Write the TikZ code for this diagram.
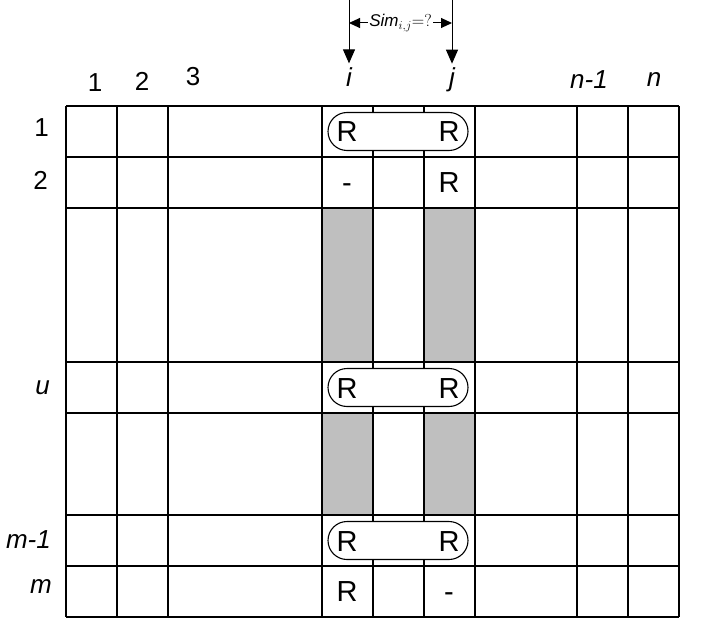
\documentclass[tikz,border=0pt]{standalone}
\usepackage{fontspec}
\setmainfont{Liberation Sans}
\usetikzlibrary{arrows.meta}

\begin{document}
\begin{tikzpicture}
  [x=1pt, y=-1pt,
   grid/.style={line width=1.5pt},
   hdr/.style={font=\fontsize{26}{30}\selectfont, inner sep=0pt},
   ent/.style={font=\fontsize{29}{34}\selectfont, inner sep=0pt, anchor=base},
   pill/.style={draw, fill=white, line width=1.1pt, rounded corners=19pt,
     minimum width=140pt, minimum height=38pt},
   pick/.style={line width=1pt, -{Triangle[length=14pt,width=12pt]}}]
  \useasboundingbox (0,0) rectangle (703,620);

  % Faixas cinzentas das colunas i e j
  \foreach \x in {322,424} {
    \fill[gray!50] (\x,208) rectangle (\x+51,362);
    \fill[gray!50] (\x,413) rectangle (\x+51,515);
  }

  % Grelha
  \foreach \x in {66,117,168,322,373,424,475,577,628,679}
    \draw[grid] (\x,106) -- (\x,617);
  \foreach \y in {106,157,208,362,413,515,566,617}
    \draw[grid] (66,\y) -- (679,\y);

  % Cabeçalhos das colunas
  \node[hdr] (c1) at (95,83) {1};
  \node[hdr] (c2) at (142,81) {2};
  \node[hdr] (c3) at (193,77) {3};
  \node[hdr, inner sep=4pt] (ci) at (349,77) {\itshape i};
  \node[hdr, inner sep=4pt] (cj) at (452,80) {\itshape j};
  \node[hdr] (cn1) at (589,80) {\itshape n-1};
  \node[hdr] (cn) at (654,80) {\itshape n};

  % Cabeçalhos das linhas
  \node[hdr, anchor=east] (r1) at (49,128) {1};
  \node[hdr, anchor=east] (r2) at (48,180) {2};
  \node[hdr, anchor=east] (ru) at (50,388) {\itshape u};
  \node[hdr, anchor=east] (rm1) at (51,540) {\itshape m-1};
  \node[hdr, anchor=east] (rm) at (52,587) {\itshape m};

  % Pares avaliados
  \node[pill] (p1) at (398,131.5) {};
  \node[pill] (pu) at (398,387.5) {};
  \node[pill] (pm1) at (398,540.5) {};

  % Conteúdo das células
  \node[ent] (i1) at (347,142) {R};
  \node[ent] (j1) at (449,142) {R};
  \node[ent] (i2) at (347,193) {-};
  \node[ent] (j2) at (449,193) {R};
  \node[ent] (iu) at (347,398) {R};
  \node[ent] (ju) at (449,398) {R};
  \node[ent] (im1) at (347,551) {R};
  \node[ent] (jm1) at (449,551) {R};
  \node[ent] (im) at (347,601) {R};
  \node[ent] (jm) at (449,601) {-};

  % Setas de seleção das colunas
  \coordinate (ti) at (349,0);
  \coordinate (tj) at (452,0);
  \draw[pick] (ti) -- (ci);
  \draw[pick] (tj) -- (cj);

  \coordinate (si) at (349,23);
  \coordinate (sj) at (452,23);
  \draw[line width=1pt, {Triangle[length=11pt,width=10pt]}-{Triangle[length=11pt,width=10pt]}]
    (si) -- (sj) node[midway, fill=white, inner sep=1pt, font=\fontsize{17}{20}\selectfont]
    {$\mathit{Sim}_{i,j}\mathord{=}?$};
\end{tikzpicture}
\end{document}
